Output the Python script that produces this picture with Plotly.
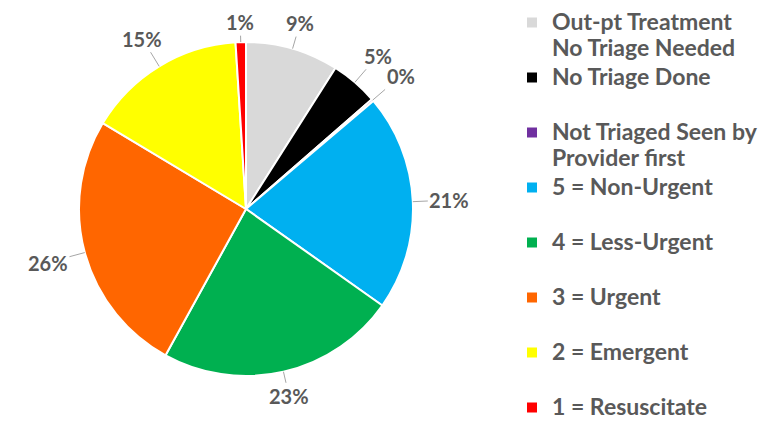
import math
import plotly.graph_objects as go

# ---- data ----
labels = [
    "Out-pt Treatment|No Triage Needed",
    "No Triage Done",
    "Not Triaged Seen by|Provider first",
    "5 = Non-Urgent",
    "4 = Less-Urgent",
    "3 = Urgent",
    "2 = Emergent",
    "1 = Resuscitate",
]
values = [9.0, 4.6, 0.2, 21.0, 23.2, 25.6, 15.4, 1.0]
colors = ["#D9D9D9", "#000000", "#7030A0", "#00B0F0", "#00B050", "#FF6600", "#FFFF00", "#FF0000"]

# ---- figure geometry (page has an 8px body margin) ----
W, H = 762, 413
CX, CY, R = 238, 201, 167
TEXT = "#595959"


def legend_text(lab, last):
    parts = lab.split("|")
    if len(parts) == 1 and not last:
        parts.append(" ")
    return "<br>".join(f"<span style='font-size:23px'>{p}</span>" for p in parts)


fig = go.Figure(
    go.Pie(
        labels=[legend_text(l, i == len(labels) - 1) for i, l in enumerate(labels)],
        values=values,
        sort=False,
        direction="clockwise",
        rotation=0,
        textinfo="none",
        hoverinfo="label+percent",
        marker=dict(colors=colors, line=dict(color="white", width=2)),
        domain=dict(x=[(CX - R) / W, (CX + R) / W], y=[1 - (CY + R) / H, 1 - (CY - R) / H]),
    )
)

# percentage labels with leader lines, placed from the slice mid-angles
total = sum(values)
cum = 0.0
annotations = []
for v in values:
    mid = (cum + v / 2) / total * 2 * math.pi
    cum += v
    s, c = math.sin(mid), math.cos(mid)
    d = 174 + abs(s) * 29 + abs(c) * 12
    px, py = CX + R * s, CY - R * c
    annotations.append(
        dict(
            x=px / W, y=1 - py / H, xref="paper", yref="paper",
            text=f"{round(v / total * 100):.0f}%",
            showarrow=True, arrowhead=0, arrowwidth=1, arrowcolor="#A6A6A6",
            standoff=0, startstandoff=0,
            ax=(d - R) * s, ay=-(d - R) * c,
            font=dict(family="Lato", size=20, color=TEXT, weight="bold"),
        )
    )

fig.update_layout(
    width=W, height=H,
    margin=dict(l=0, r=0, t=0, b=0, autoexpand=False),
    paper_bgcolor="white",
    plot_bgcolor="white",
    showlegend=True,
    legend=dict(
        x=504 / W, y=1 + 5 / H, xanchor="left", yanchor="top",
        font=dict(family="Lato", size=20, color=TEXT, weight="bold"),
        valign="top", bgcolor="rgba(0,0,0,0)",
        maxheight=1000,
    ),
    annotations=annotations,
)

fig.write_html("out.html")
